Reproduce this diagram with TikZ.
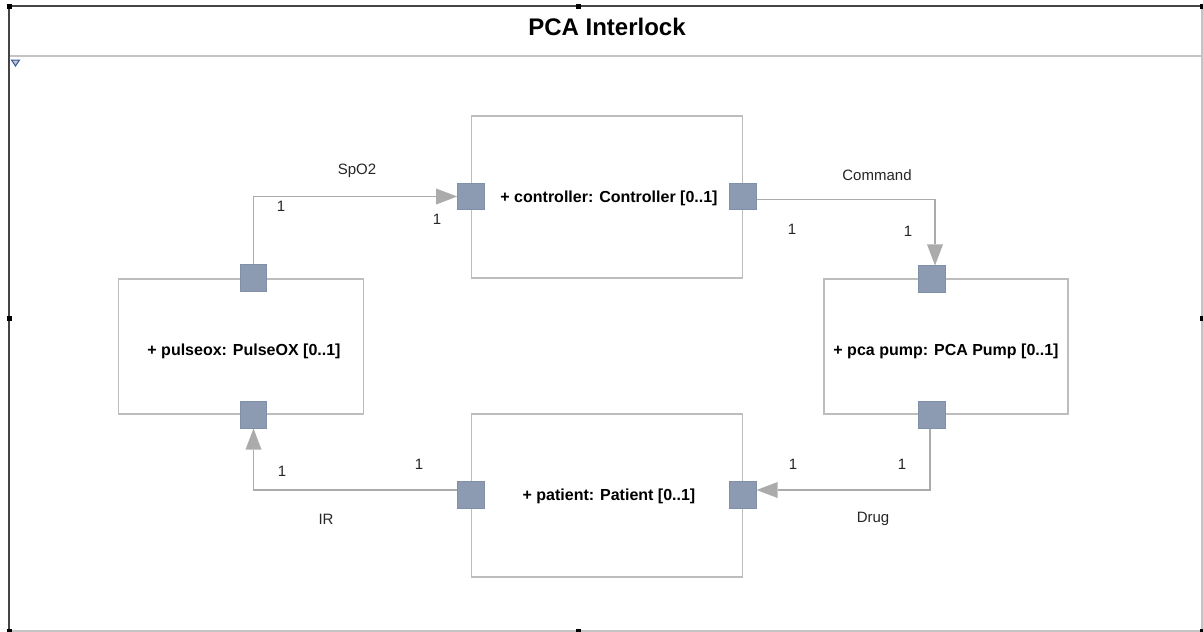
\documentclass[tikz,border=0pt]{standalone}
\usepackage{fontspec}
\setmainfont{Liberation Sans}
\usetikzlibrary{arrows.meta}
\definecolor{portfill}{HTML}{8C9BB2}
\definecolor{portedge}{HTML}{8090A8}
\definecolor{boxedge}{HTML}{BDBDBD}
\definecolor{wire}{HTML}{ABABAB}
\definecolor{framedark}{HTML}{444444}
\definecolor{framelight}{HTML}{C4C4C4}
\definecolor{marker}{HTML}{3A5A9A}
\tikzset{
  part/.style={draw=boxedge, line width=1.3pt, fill=white, inner sep=0pt},
  partname/.style={font=\fontsize{16}{19}\selectfont\bfseries, inner sep=0pt},
  port/.style={draw=portedge, line width=0.6pt, fill=portfill, minimum size=26.5pt, inner sep=0pt},
  conn/.style={draw=wire, line width=1.3pt,
    -{Triangle[length=21pt, width=16pt, fill=wire, line width=0pt]}},
  lbl/.style={font=\fontsize{15}{18}\selectfont, text=black!85, inner sep=0pt},
  handle/.style={fill=black, minimum size=5pt, inner sep=0pt},
}
\begin{document}
\begin{tikzpicture}[x=1pt, y=-1pt]
\useasboundingbox (0,0) rectangle (1203,632);
\fill[white] (0,0) rectangle (1203,632);

% diagram frame and title band
\draw[framelight, line width=1.2pt] (10,56) -- (1202,56);
\draw[framelight, line width=1.2pt] (9,631) -- (1202,631) -- (1202,6);
\draw[framedark, line width=2pt] (9,631) -- (9,6) -- (1202,6);
\node[font=\fontsize{24}{28}\selectfont\bfseries, inner sep=0pt] (title) at (607,27) {PCA Interlock};
\draw[marker, line width=1pt, fill=marker!35] (11.5,60) -- (19.5,60) -- (15.5,66) -- cycle;

% selection handles
\foreach \hx/\hy in {9/6, 578/6, 1202/6, 9/318, 1202/318, 9/631, 578/631, 1202/631}
  \node[handle] at (\hx,\hy) {};

% parts
\node[part, minimum width=271pt, minimum height=162pt] (ctl) at (607,197) {};
\node[part, minimum width=245pt, minimum height=135pt] (pox) at (241,346.5) {};
\node[part, minimum width=244pt, minimum height=135pt] (pump) at (946,346.5) {};
\node[part, minimum width=271pt, minimum height=163pt] (pat) at (607,495.5) {};

% part names
\node[partname] (ctlname) at (609,198) {+ controller: Controller [0..1]};
\node[partname] (poxname) at (244,351) {+ pulseox: PulseOX [0..1]};
\node[partname] (pumpname) at (946,351) {+ pca pump: PCA Pump [0..1]};
\node[partname] (patname) at (609,496) {+ patient: Patient [0..1]};

% ports
\node[port] (ctlL) at (470.7,196.5) {};
\node[port] (ctlR) at (743,196.5) {};
\node[port] (poxT) at (253.5,278) {};
\node[port] (poxB) at (253.5,415) {};
\node[port] (pumpT) at (932,279) {};
\node[port] (pumpB) at (932,415) {};
\node[port] (patL) at (471,495) {};
\node[port] (patR) at (743,495) {};

% connectors
\draw[conn] (poxT.north) |- (ctlL.west);
\draw[conn] ([yshift=-3pt]ctlR.east) -| ([xshift=3pt]pumpT.north);
\draw[conn] ([xshift=-2pt]pumpB.south) |- ([yshift=5pt]patR.east);
\draw[conn] ([yshift=5pt]patL.west) -| (poxB.south);

% connector labels and multiplicities
\node[lbl] (l1) at (357,171) {SpO2};
\node[lbl] (m1) at (281,206) {1};
\node[lbl] (m2) at (437,219) {1};
\node[lbl] (l2) at (877,175) {Command};
\node[lbl] (m3) at (792,229) {1};
\node[lbl] (m4) at (908,231) {1};
\node[lbl] (l3) at (873,519) {Drug};
\node[lbl] (m5) at (793,464) {1};
\node[lbl] (m6) at (902,464) {1};
\node[lbl] (l4) at (326,519) {IR};
\node[lbl] (m7) at (282,471) {1};
\node[lbl] (m8) at (419,464) {1};
\end{tikzpicture}
\end{document}
